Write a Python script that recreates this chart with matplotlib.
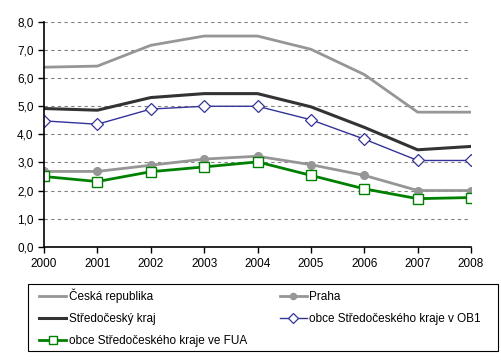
import matplotlib.pyplot as plt
from matplotlib.patches import Rectangle
from matplotlib.ticker import FuncFormatter, MultipleLocator

plt.rcParams['font.family'] = ['Liberation Sans', 'DejaVu Sans']

roky = [2000, 2001, 2002, 2003, 2004, 2005, 2006, 2007, 2008]
ceska_republika = [6.39, 6.43, 7.17, 7.5, 7.5, 7.03, 6.13, 4.79, 4.79]
praha = [2.68, 2.68, 2.9, 3.12, 3.22, 2.92, 2.54, 2.0, 2.0]
stredocesky_kraj = [4.92, 4.86, 5.31, 5.45, 5.45, 4.98, 4.25, 3.45, 3.57]
obce_ob1 = [4.48, 4.36, 4.9, 5.0, 5.0, 4.52, 3.83, 3.07, 3.07]
obce_fua = [2.5, 2.32, 2.67, 2.84, 3.02, 2.54, 2.06, 1.71, 1.75]

W, H = 502, 362
fig = plt.figure(figsize=(W / 100, H / 100), dpi=100)
ax = fig.add_axes([44 / W, (H - 246.7) / H, (471 - 44) / W, (246.7 - 22) / H])

l1, = ax.plot(roky, ceska_republika, color='#969696', lw=2, label='Česká republika')
l2, = ax.plot(roky, praha, color='#969696', lw=2, marker='o', ms=5.5,
              mfc='#969696', mec='#969696', label='Praha')
l3, = ax.plot(roky, stredocesky_kraj, color='#333333', lw=2.2, label='Středočeský kraj')
l4, = ax.plot(roky, obce_ob1, color='#333399', lw=1, marker='D', ms=6,
              mfc='white', mec='#333399', mew=0.9, label='obce Středočeského kraje v OB1')
l5, = ax.plot(roky, obce_fua, color='#008000', lw=2, marker='s', ms=7,
              mfc='white', mec='#008000', mew=1, label='obce Středočeského kraje ve FUA')

ax.set_xlim(2000, 2008)
ax.set_ylim(0, 8)
ax.set_xticks(roky)
ax.yaxis.set_major_locator(MultipleLocator(1))
ax.yaxis.set_major_formatter(FuncFormatter(lambda v, p: f'{v:.1f}'.replace('.', ',')))
ax.tick_params(labelsize=8.5, length=4, width=1, color='black', direction='out')
ax.tick_params(axis='x', pad=4)

for s in ['top', 'right']:
    ax.spines[s].set_visible(False)
ax.spines['left'].set_linewidth(1.2)
ax.spines['bottom'].set_linewidth(1.2)
ax.grid(axis='y', color='#808080', ls=(0, (3, 3)), lw=0.8)
ax.set_axisbelow(True)

# ramecek legendy zvlast (vetsi okraj vlevo/vpravo nez nahore/dole)
fig.patches.append(Rectangle((28 / W, 1 - 351 / H), 470 / W, 67 / H, transform=fig.transFigure,
                             fill=False, edgecolor='black', lw=0.8))

# legenda se plni po sloupcich -> poradi upraveno, aby radky odpovidaly originalu
handles = [l1, l3, l5, l2, l4]
leg = fig.legend(handles, [h.get_label() for h in handles], ncol=2,
                 loc='center', bbox_to_anchor=(39 / W, 1 - 351 / H, 442 / W, 67 / H),
                 mode='expand', fontsize=8.5, frameon=False,
                 handlelength=2.3, handletextpad=0.2, borderaxespad=0, markerscale=0.8,
                 labelspacing=0.85, columnspacing=1.8, borderpad=0)

fig.savefig('out.png', dpi=100)
